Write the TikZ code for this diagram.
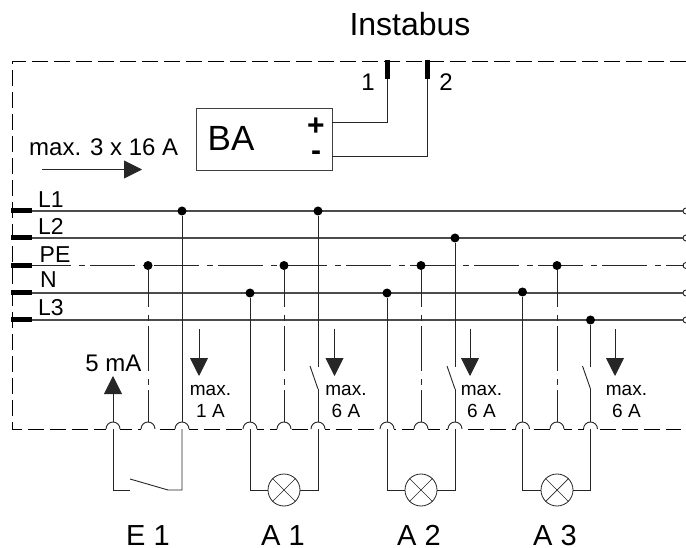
\documentclass[tikz,border=0pt]{standalone}
\usepackage{fontspec}
\setmainfont{Liberation Sans}
\usetikzlibrary{arrows.meta}
\tikzset{
  wire/.style={line width=0.9pt, black!85},
  bus/.style={line width=1.3pt, black!70},
  earth/.style={line width=1pt, black!85, dash pattern=on 45pt off 8pt on 6pt off 5pt, dash phase=8pt},
  frame/.style={line width=0.9pt, black, dash pattern=on 16pt off 6pt},
  pin/.style={line width=5pt, black},
  joint/.style={circle, fill=black, inner sep=0pt, minimum size=9pt},
  lamp/.style={circle, draw=black!85, line width=0.8pt, fill=white, inner sep=0pt, minimum size=32pt},
  current/.style={wire, -{Triangle[length=18pt,width=18pt]}},
  txt/.style={inner sep=0pt, anchor=base},
  txtleft/.style={inner sep=0pt, anchor=base west}
}
\newcommand{\fs}[1]{\fontsize{#1}{#1}\selectfont}
\begin{document}
\begin{tikzpicture}[x=1pt, y=-1pt]
  \useasboundingbox (0,0) rectangle (686,548);

  % Dashed housing
  \draw[frame] (686,61.5) -- (12.5,61.5) -- (12.5,429) -- (681,429);

  % Labels at the top
  \node[txt, font=\fs{32}] (instabus) at (410,36) {Instabus};
  \node[txt, font=\fs{24}] (pinone) at (368,91) {1};
  \node[txt, font=\fs{24}] (pintwo) at (446,91) {2};
  \node[txtleft, font=\fs{24}] (maxall) at (29,156) {max. 3 x 16 A};

  % Bus coupler
  \node[draw=black!75, line width=1pt, minimum width=136pt, minimum height=61.5pt, inner sep=0pt] (ba) at (264,139.5) {};
  \node[txtleft, font=\fs{35}] (batxt) at (207.5,151) {BA};
  \node[txt, font=\fs{30}\bfseries] (plus) at (316,136) {+};
  \node[txt, font=\fs{30}\bfseries] (minus) at (316,161) {-};

  % Bus pins
  \coordinate (a) at (387,60);
  \coordinate (ae) at (387,79);
  \coordinate (b) at (427.5,60);
  \coordinate (be) at (427.5,79);
  \draw[pin] (a) -- (ae);
  \draw[pin] (b) -- (be);
  \coordinate (bap) at (332,122);
  \coordinate (bam) at (332,156);
  \draw[wire] (bap) -| (ae);
  \draw[wire] (bam) -| (be);

  % Feed arrow
  \coordinate (feeda) at (42,169.5);
  \coordinate (feedb) at (142,169.5);
  \draw[current] (feeda) -- (feedb);

  % Rails
  \foreach \name/\y in {L1/211, L2/238, PE/265.5, N/293, L3/320} {
    \coordinate (\name l) at (11,\y);
    \coordinate (\name p) at (32,\y);
    \coordinate (\name r) at (684,\y);
    \draw[pin] (\name l) -- (\name p);
    \draw[black!85, line width=0.9pt] (686,\y+3) arc (90:270:3);
  }
  \draw[bus] (L1p) -- (L1r);
  \draw[bus] (L2p) -- (L2r);
  \draw[earth, dash phase=6pt] (PEp) -- (PEr);
  \draw[bus] (Np) -- (Nr);
  \draw[bus] (L3p) -- (L3r);

  \node[txtleft, font=\fs{23}] (lone) at (38,208) {L1};
  \node[txtleft, font=\fs{23}] (ltwo) at (38,235) {L2};
  \node[txtleft, font=\fs{23}] (pe) at (39.5,263) {PE};
  \node[txtleft, font=\fs{23}] (nn) at (40,288) {N};
  \node[txtleft, font=\fs{23}] (lthree) at (38,316) {L3};

  % Terminals on the lower edge
  \foreach \name/\x in {ta/113, tb/148, tc/182, td/250, te/284, tf/318, tg/387, th/421, ti/455, tj/522.5, tk/557, tl/590.5} {
    \fill[white] (\x-7,430) rectangle (\x+7,422);
    \draw[wire] (\x-7,429) arc (180:360:7);
    \coordinate (\name) at (\x,422);
    \coordinate (\name u) at (\x,429);
    \coordinate (\name d) at (\x,490);
  }

  % Joints on the rails
  \node[joint] (ja) at (182,211) {};
  \node[joint] (jb) at (318,211) {};
  \node[joint] (jc) at (455,238) {};
  \node[joint] (jd) at (148,265.5) {};
  \node[joint] (je) at (284,265.5) {};
  \node[joint] (jf) at (421,265.5) {};
  \node[joint] (jg) at (557,265.5) {};
  \node[joint] (jh) at (250,293) {};
  \node[joint] (ji) at (387,293) {};
  \node[joint] (jj) at (522.5,292) {};
  \node[joint] (jk) at (590.5,320) {};

  % Drops to the terminals
  \draw[earth] (jd) -- (tb);
  \draw[earth] (je) -- (te);
  \draw[earth] (jf) -- (th);
  \draw[earth] (jg) -- (tk);
  \draw[wire] (ja) -- (tc);
  \draw[wire] (jh) -- (td);
  \draw[wire] (ji) -- (tg);
  \draw[wire] (jj) -- (tj);

  % Relay contacts
  \foreach \j/\t/\x in {jb/tf/318, jc/ti/455, jk/tl/590.5} {
    \coordinate (top) at (\x,367);
    \coordinate (mid) at (\x,389);
    \draw[wire] (\j) -- (top);
    \draw[wire] (mid) -- (\t);
    \draw[wire] (mid) -- ++(-8,-23);
  }

  % Input contact
  \coordinate (swa) at (130,490);
  \coordinate (swb) at (130,479);
  \coordinate (swc) at (168,490);
  \draw[wire] (tau) -- (tad) -- (swa);
  \draw[wire] (swb) -- (swc) -- (tcd) -- (tcu);

  % Lamps
  \node[lamp] (lampa) at (284,490) {};
  \node[lamp] (lampb) at (421,490) {};
  \node[lamp] (lampc) at (557,490) {};
  \foreach \l in {lampa, lampb, lampc} {
    \draw[wire, line width=0.7pt] (\l.45) -- (\l.225);
    \draw[wire, line width=0.7pt] (\l.135) -- (\l.315);
  }
  \draw[wire] (tdu) -- (tdd) -- (lampa);
  \draw[wire] (tfu) -- (tfd) -- (lampa);
  \draw[wire] (tgu) -- (tgd) -- (lampb);
  \draw[wire] (tiu) -- (tid) -- (lampb);
  \draw[wire] (tju) -- (tjd) -- (lampc);
  \draw[wire] (tlu) -- (tld) -- (lampc);

  % Input current
  \draw[current] (ta) -- (113,376);
  \node[txt, font=\fs{24}] (fivema) at (113.5,371) {5 mA};

  % Output currents
  \foreach \name/\x/\val in {one/199/1, two/334.5/6, three/470/6, four/615/6} {
    \coordinate (cur\name) at (\x,329);
    \draw[current] (cur\name) -- (\x,376);
    \node[txt, font=\fs{19}] (max\name) at (\x+11.5,395) {max.};
    \node[txt, font=\fs{19}] (amp\name) at (\x+11.5,417) {\val\ A};
  }

  % Names
  \node[txt, font=\fs{29}] (eone) at (148,545) {E 1};
  \node[txt, font=\fs{29}] (aone) at (283,545) {A 1};
  \node[txt, font=\fs{29}] (atwo) at (419,545) {A 2};
  \node[txt, font=\fs{29}] (athree) at (555,545) {A 3};
\end{tikzpicture}
\end{document}
